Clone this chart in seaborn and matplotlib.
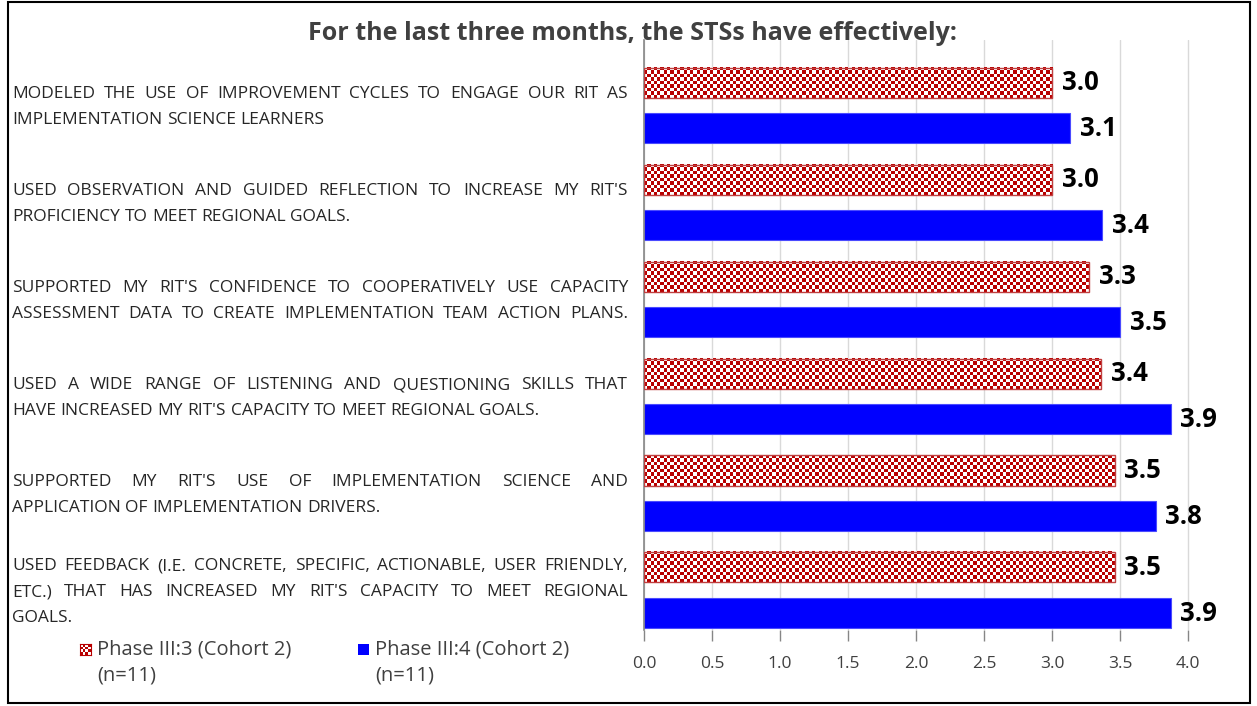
import numpy as np
import pandas as pd
import seaborn as sns
import matplotlib.pyplot as plt
from matplotlib.colors import ListedColormap
from matplotlib.patches import Rectangle

# data
items = [
    "MODELED THE USE OF IMPROVEMENT CYCLES TO ENGAGE OUR RIT AS\nIMPLEMENTATION SCIENCE LEARNERS",
    "USED OBSERVATION AND GUIDED REFLECTION TO INCREASE MY RIT'S\nPROFICIENCY TO MEET REGIONAL GOALS.",
    "SUPPORTED MY RIT'S CONFIDENCE TO COOPERATIVELY USE CAPACITY\nASSESSMENT DATA TO CREATE IMPLEMENTATION TEAM ACTION PLANS.",
    "USED A WIDE RANGE OF  LISTENING AND QUESTIONING SKILLS THAT\nHAVE INCREASED MY RIT'S CAPACITY TO MEET REGIONAL GOALS.",
    "SUPPORTED MY RIT'S USE OF IMPLEMENTATION SCIENCE AND\nAPPLICATION OF IMPLEMENTATION DRIVERS.",
    "USED FEEDBACK (I.E. CONCRETE, SPECIFIC, ACTIONABLE, USER FRIENDLY,\nETC.) THAT HAS INCREASED MY RIT'S CAPACITY TO MEET REGIONAL\nGOALS.",
]
phases = ["Phase III:3 (Cohort 2)\n(n=11)", "Phase III:4 (Cohort 2)\n(n=11)"]
phase3 = [3.0, 3.0, 3.27, 3.36, 3.46, 3.46]
phase4 = [3.13, 3.37, 3.5, 3.87, 3.76, 3.87]
xticks = [0.0, 0.5, 1.0, 1.5, 2.0, 2.5, 3.0, 3.5, 4.0]
title = "For the last three months, the STSs have effectively:"

RED = "#B80000"
BLUE = "#0000FF"
TXT = "#262626"
GREY = "#404040"

df = pd.DataFrame({
    "item": items * 2,
    "phase": [phases[0]] * len(items) + [phases[1]] * len(items),
    "score": phase3 + phase4,
})

W, H = 1257, 706
sns.set_style("white")
plt.rcParams["font.family"] = ["Open Sans", "DejaVu Sans"]
fig = plt.figure(figsize=(W / 100, H / 100), dpi=100)
ax = fig.add_axes([644 / W, 1 - 630 / H, 585 / W, 590 / H])

sns.barplot(data=df, x="score", y="item", hue="phase", orient="h",
            palette=[RED, BLUE], saturation=1, width=0.94, gap=0.34,
            errorbar=None, legend=False, ax=ax)

XLIM = (0, 4.3)
YLIM = (5.41, -0.675)
ax.set_xlim(*XLIM)
ax.set_ylim(*YLIM)
ax.set_xticks(xticks)
ax.set_xticklabels([f"{t:.1f}" for t in xticks])
ax.set_yticks([])
ax.set_xlabel("")
ax.set_ylabel("")
ax.grid(axis="x", color="#D9D9D9", lw=1)
ax.set_axisbelow(True)
for s in ["top", "right", "bottom"]:
    ax.spines[s].set_visible(False)
ax.spines["left"].set_color("#868686")
ax.spines["left"].set_linewidth(1.2)
ax.tick_params(axis="x", bottom=True, direction="out", length=8, width=1,
               color="#868686", labelsize=12.5, labelcolor=GREY, pad=11)


def checker(nr, nc):
    return np.add.outer(np.arange(nr), np.arange(nc)) % 2


# checkerboard fill for the first series
cmap = ListedColormap(["white", RED])
px_x = ax.bbox.width / (XLIM[1] - XLIM[0])
px_y = ax.bbox.height / (YLIM[0] - YLIM[1])
for bar in ax.containers[0]:
    x0, y0, w, h = bar.get_x(), bar.get_y(), bar.get_width(), bar.get_height()
    nc = max(1, int(round(w * px_x / 3.3)))
    nr = max(1, int(round(h * px_y / 3.3)))
    ax.imshow(checker(nr, nc), cmap=cmap, extent=(x0, x0 + w, y0 + h, y0),
              aspect="auto", interpolation="nearest", zorder=2)
    bar.set_facecolor("none")
    bar.set_edgecolor("#C04040")
    bar.set_linewidth(1)
    bar.set_zorder(3)
for bar in ax.containers[1]:
    bar.set_edgecolor("#4A4AFF")
    bar.set_linewidth(0.8)
ax.set_xlim(*XLIM)
ax.set_ylim(*YLIM)

for c in ax.containers:
    ax.bar_label(c, fmt="%.1f", padding=7, fontsize=18.5, fontweight="bold", color="black")

fig.text(632 / W, 1 - 33 / H, title, ha="center", va="center",
         fontsize=18, fontweight="bold", color=GREY)

# justified category labels on the left
renderer = fig.canvas.get_renderer()


def draw_label(text, yc, x0=12, x1=628, size=12.5, lh=26):
    lines = text.split("\n")
    n = len(lines)
    sp = size * 0.26 * 100 / 72
    for i, line in enumerate(lines):
        y = yc - (i - (n - 1) / 2) * lh
        words = line.split()
        ts = [fig.text(0, y / H, wd, fontsize=size, color=TXT, va="center") for wd in words]
        ws = [t.get_window_extent(renderer=renderer).width for t in ts]
        natural = sum(ws) + sp * (len(words) - 1)
        gap = sp
        if len(words) > 1 and (i < n - 1 or natural > 0.9 * (x1 - x0)):
            gap = (x1 - x0 - sum(ws)) / (len(words) - 1)
        x = x0
        for t, wd in zip(ts, ws):
            t.set_x(x / W)
            x += wd + gap


for k, txt in enumerate(items):
    yc = ax.transData.transform((0, k))[1] - 2
    draw_label(txt, yc)

# legend
leg_x = [80, 358]
for j, lab in enumerate(phases):
    lx = leg_x[j]
    if j == 0:
        lax = fig.add_axes([lx / W, 1 - 655 / H, 11 / W, 11 / H])
        lax.imshow(checker(4, 4), cmap=cmap, interpolation="nearest", aspect="auto")
        lax.set_xticks([])
        lax.set_yticks([])
        for sp_ in lax.spines.values():
            sp_.set_color(RED)
            sp_.set_linewidth(0.8)
    else:
        fig.patches.append(Rectangle((lx / W, 1 - 655 / H), 11 / W, 11 / H,
                                     transform=fig.transFigure, fc=BLUE, ec="none"))
    for m, part in enumerate(lab.split("\n")):
        fig.text((lx + 17) / W, 1 - (649 + 26 * m) / H, part, fontsize=14.5,
                 color=GREY, va="center")

fig.patches.append(Rectangle((8 / W, 3 / H), (1250 - 8) / W, (704 - 3) / H,
                             transform=fig.transFigure, fill=False, ec="black", lw=1.5))

fig.savefig("out.png", dpi=100)
